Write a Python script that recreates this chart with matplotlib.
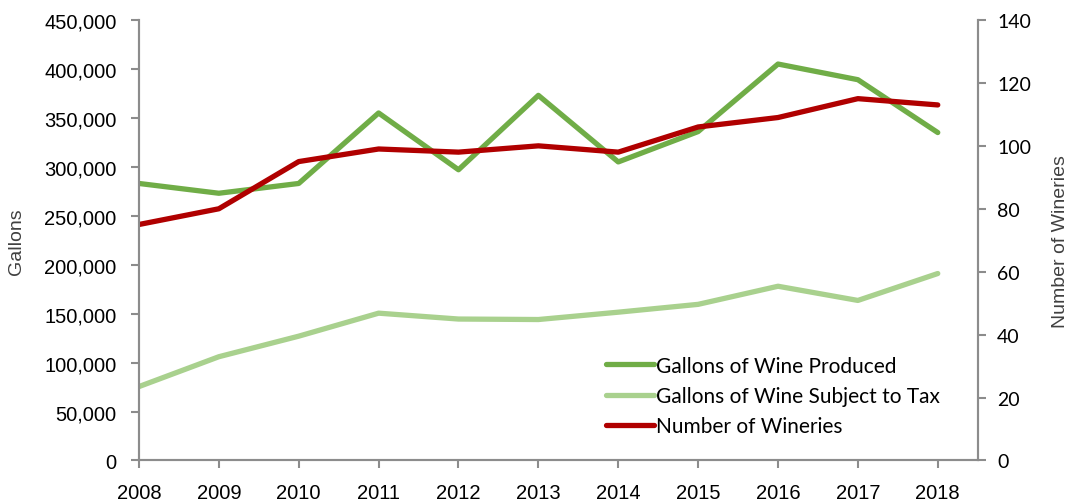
import matplotlib
matplotlib.use('Agg')
import matplotlib.pyplot as plt
from matplotlib.ticker import FuncFormatter

years = [2008, 2009, 2010, 2011, 2012, 2013, 2014, 2015, 2016, 2017, 2018]
produced = [283000, 273000, 283000, 355000, 297000, 373000, 305000, 336000, 405000, 389000, 335000]
taxed = [75500, 106000, 127000, 150500, 144500, 144000, 151500, 159500, 178000, 163500, 191000]
wineries = [75, 80, 95, 99, 98, 100, 98, 106, 109, 115, 113]

spine_col = '#8c8c8c'

fig = plt.figure(figsize=(10.69, 5.02), dpi=100)
ax = fig.add_axes([0.130, 0.0807, 0.7846, 0.8775])
ax2 = ax.twinx()

l1, = ax.plot(years, produced, color='#70AD47', lw=3.8, label='Gallons of Wine Produced', solid_capstyle='round')
l2, = ax.plot(years, taxed, color='#A9D18E', lw=3.8, label='Gallons of Wine Subject to Tax', solid_capstyle='round')
l3, = ax2.plot(years, wineries, color='#B00000', lw=3.8, label='Number of Wineries', solid_capstyle='round')

ax.set_xlim(2008, 2018.5)
ax.set_ylim(0, 450000)
ax2.set_ylim(0, 140)
ax.set_xticks(years)
ax.set_yticks(range(0, 450001, 50000))
ax2.set_yticks(range(0, 141, 20))
ax.yaxis.set_major_formatter(FuncFormatter(lambda v, p: f'{int(v):,}'))

for a in (ax, ax2):
    a.spines['top'].set_visible(False)
    for s in ('left', 'right', 'bottom'):
        a.spines[s].set_color(spine_col)
        a.spines[s].set_linewidth(1.5)
    a.tick_params(color=spine_col, width=1.5, length=6)

ax.tick_params(axis='x', labelsize=14.5, pad=10)
ax.tick_params(axis='y', labelsize=14.5, pad=10)
for t in ax.get_xticklabels() + ax.get_yticklabels():
    t.set_fontfamily('Liberation Sans')
ax2.tick_params(axis='y', labelsize=14, pad=8)
for t in ax2.get_yticklabels():
    t.set_fontfamily('Lato')

ax.set_ylabel('Gallons', fontsize=14, color='#404040', family='Liberation Sans', labelpad=14)
ax2.set_ylabel('Number of Wineries', fontsize=14, color='#404040', family='Liberation Sans', labelpad=15)

leg = ax.legend(handles=[l1, l2, l3], loc='lower left', bbox_to_anchor=(0.535, 0.012), frameon=False,
                prop={'family': 'Lato', 'size': 15}, handlelength=2.3, handletextpad=0.1,
                labelspacing=0.5)

fig.savefig('out.png', dpi=100)
